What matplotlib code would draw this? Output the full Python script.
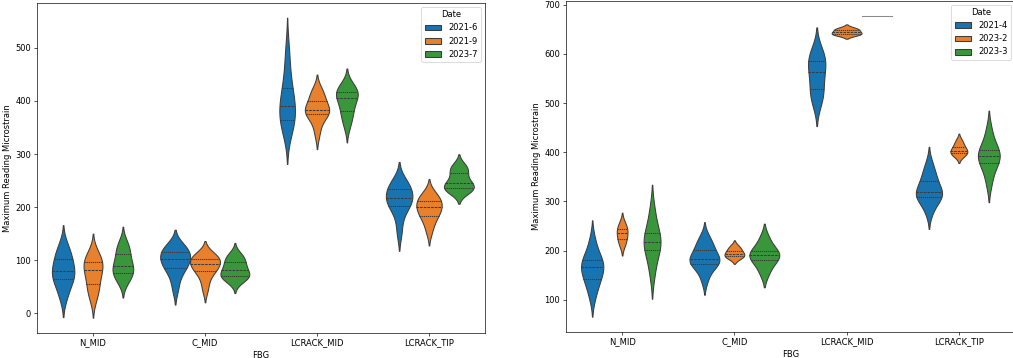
import matplotlib
matplotlib.use("Agg")
import matplotlib.pyplot as plt
import pandas as pd
import seaborn as sns

fbg = ["N_MID", "C_MID", "LCRACK_MID", "LCRACK_TIP"]
colors = ["#1874b0", "#e8802c", "#3a963a"]

# left chart: readings per FBG and date
dates_left = ["2021-6", "2021-9", "2023-7"]
l_nmid_2021_6 = [29, 45, 58, 66, 71, 76, 82, 90, 100, 108, 116, 130]
l_nmid_2021_9 = [26, 40, 50, 57, 70, 79, 84, 89, 95, 101, 107, 116]
l_nmid_2023_7 = [59, 66, 73, 78, 83, 87, 92, 100, 110, 117, 126, 134]
l_cmid_2021_6 = [46, 68, 82, 87, 94, 99, 104, 108, 114, 120, 124, 128]
l_cmid_2021_9 = [45, 63, 77, 80, 86, 91, 94.5, 98, 102, 106, 109, 112]
l_cmid_2023_7 = [59, 66, 69, 71, 73, 78, 85, 88, 95, 101, 106, 112]
l_lmid_2021_6 = [338, 352, 360, 365, 376, 385, 391, 400, 412, 423.5, 442, 468, 500]
l_lmid_2021_9 = [338, 358, 373, 376, 379, 381, 384.5, 390, 397, 408, 415, 421]
l_lmid_2023_7 = [352, 366, 378, 382.5, 395, 404, 408, 412, 416, 420, 425, 431]
l_ltip_2021_6 = [152, 180, 200, 203, 209, 215, 219, 225, 232, 238, 244, 251]
l_ltip_2021_9 = [154, 170, 182, 185, 192, 198, 202, 206, 210, 216, 221, 227]
l_ltip_2023_7 = [228, 231, 234, 236, 239, 243, 246.5, 253, 263, 270, 275, 278]

# right chart
dates_right = ["2021-4", "2023-2", "2023-3"]
r_nmid_2021_4 = [105, 125, 140, 144, 155, 164, 168, 173, 180, 186, 200, 222]
r_nmid_2023_2 = [213, 224.5, 236, 243, 254]
r_nmid_2023_3 = [152, 182, 201, 209, 218, 226, 235, 254, 284]
r_cmid_2021_4 = [140, 160, 172, 174, 177, 181, 185, 190, 200, 208, 216, 228]
r_cmid_2023_2 = [186, 188.4, 193.9, 200, 208]
r_cmid_2023_3 = [155, 177, 183.6, 190.5, 197, 203, 225]
r_lmid_2021_4 = [500, 512, 525, 538, 558, 567, 580, 588, 598, 607]
r_lmid_2023_2 = [639, 640.2, 644.2, 648.9, 652]
r_lmid_2023_3 = [678, 678, 678]
r_ltip_2021_4 = [278, 296, 307, 309.4, 313, 317, 321, 330, 340, 349, 360, 377]
r_ltip_2023_2 = [394, 399.3, 402.7, 410.8, 422]
r_ltip_2023_3 = [338, 365, 378.9, 386, 392.4, 399, 405.4, 418, 445]

left_groups = [
    [l_nmid_2021_6, l_nmid_2021_9, l_nmid_2023_7],
    [l_cmid_2021_6, l_cmid_2021_9, l_cmid_2023_7],
    [l_lmid_2021_6, l_lmid_2021_9, l_lmid_2023_7],
    [l_ltip_2021_6, l_ltip_2021_9, l_ltip_2023_7],
]
right_groups = [
    [r_nmid_2021_4, r_nmid_2023_2, r_nmid_2023_3],
    [r_cmid_2021_4, r_cmid_2023_2, r_cmid_2023_3],
    [r_lmid_2021_4, r_lmid_2023_2, r_lmid_2023_3],
    [r_ltip_2021_4, r_ltip_2023_2, r_ltip_2023_3],
]


def to_long(groups, dates):
    rows = []
    for name, per_date in zip(fbg, groups):
        for d, vals in zip(dates, per_date):
            for v in vals:
                rows.append({"FBG": name, "Date": d, "value": v})
    return pd.DataFrame(rows)


df_left = to_long(left_groups, dates_left)
df_right = to_long(right_groups, dates_right)

W, H, DPI = 1014, 358, 60
fig = plt.figure(figsize=(W / DPI, H / DPI), dpi=DPI)
ax1 = fig.add_axes([37 / W, 25.3 / H, 448 / W, 330 / H])
ax2 = fig.add_axes([566 / W, 26.3 / H, 449 / W, 331.2 / H])

for ax, df, dates in [(ax1, df_left, dates_left), (ax2, df_right, dates_right)]:
    sns.violinplot(data=df, x="FBG", y="value", hue="Date", order=fbg,
                   hue_order=dates, palette=colors, saturation=1,
                   inner="quart", ax=ax)
    ax.set_ylabel("Maximum Reading Microstrain")
    ax.set_xlabel("FBG")
    sns.move_legend(ax, "upper right", title="Date")

# the single-valued group is drawn as a flat line; lighten it like the original
for line in ax2.lines:
    y = list(line.get_ydata())
    if len(y) == 2 and y[0] == y[1] == r_lmid_2023_3[0]:
        line.set_color("#8a8a8a")

fig.savefig("out.png", dpi=DPI)
